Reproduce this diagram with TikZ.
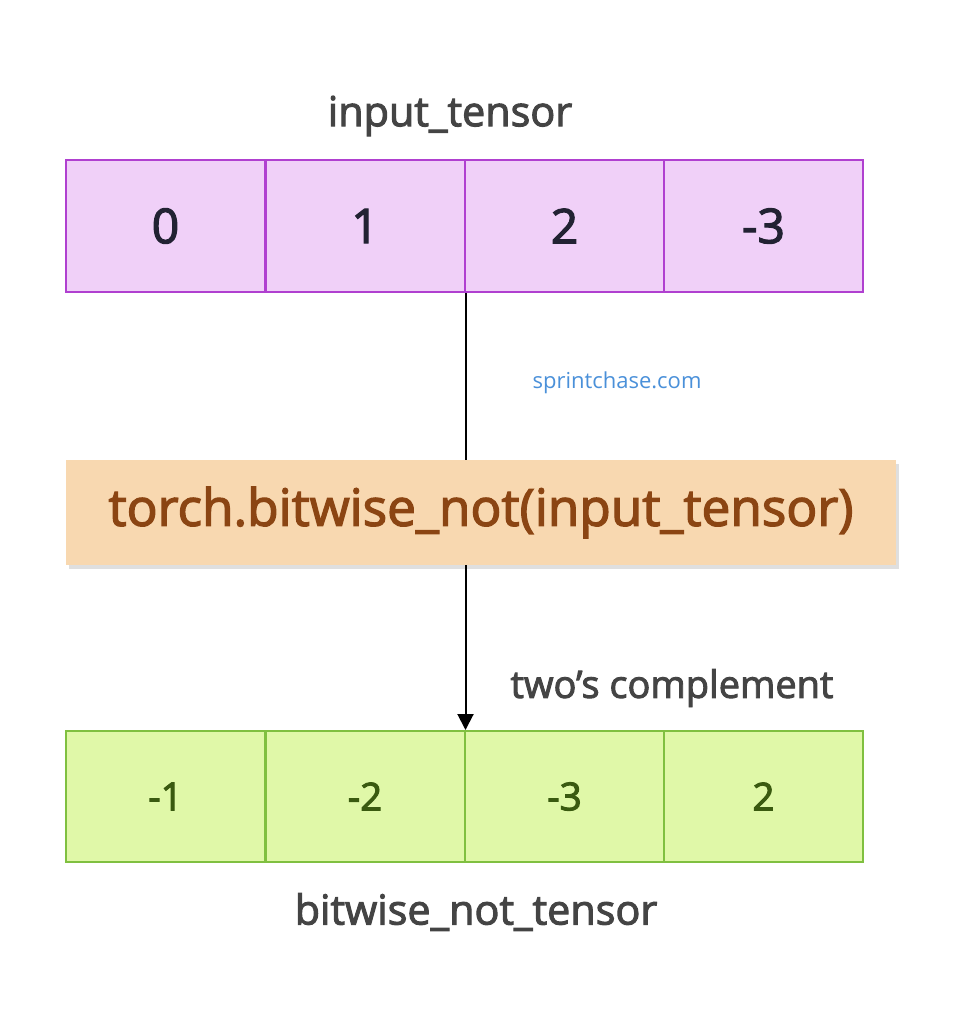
\documentclass[tikz,border=0pt]{standalone}
\usepackage{fontspec}
\setmainfont{Open Sans}
\newfontfamily\semi[FakeBold=2.5]{Open Sans}
\usetikzlibrary{arrows.meta,shadows}
\definecolor{pfill}{HTML}{F0D0F8}\definecolor{pdraw}{HTML}{B040D0}
\definecolor{gfill}{HTML}{E0F8A8}\definecolor{gdraw}{HTML}{80C040}
\definecolor{ofill}{HTML}{F8D8B0}\definecolor{otext}{HTML}{8B4513}
\definecolor{gtext}{HTML}{3A5A10}\definecolor{dtext}{HTML}{222233}
\definecolor{ltext}{HTML}{444444}\definecolor{blue1}{HTML}{4A90D9}
\begin{document}
\begin{tikzpicture}[x=0.75pt,y=-0.75pt,
 pcell/.style={draw=pdraw,line width=1.5pt,fill=pfill,minimum width=149.25pt,minimum height=99pt,inner sep=0,text=dtext,font=\semi\fontsize{36}{40}\selectfont},
 gcell/.style={draw=gdraw,line width=1.5pt,fill=gfill,minimum width=149.25pt,minimum height=98.25pt,inner sep=0,text=gtext,font=\semi\fontsize{29}{32}\selectfont},
 lbl/.style={text=ltext,font=\semi\fontsize{31}{36}\selectfont}]
\useasboundingbox (0,0) rectangle (963,1024);
\node[pcell] (p0) at (165.5,226) {0};
\node[pcell] (p1) at (365,226) {1};
\node[pcell] (p2) at (564.5,226) {2};
\node[pcell] (p3) at (763.5,226) {-3};
\node[gcell] (g0) at (165.5,796.5) {-1};
\node[gcell] (g1) at (365,796.5) {-2};
\node[gcell] (g2) at (564.5,796.5) {-3};
\node[gcell] (g3) at (763.5,796.5) {2};
\node[lbl] (t1) at (450,116) {input\_tensor};
\node[lbl] (t2) at (476,912) {bitwise\_not\_tensor};
\node[fill=ofill,minimum width=622.5pt,minimum height=78.75pt,inner sep=0,text=otext,
 font=\semi\fontsize{38.5}{42}\selectfont,drop shadow={opacity=0.25,shadow xshift=2pt,shadow yshift=-3pt}] (f) at (481,512.5) {torch.bitwise\_not(input\_tensor)};
\coordinate (a) at (p1.south east);
\coordinate (b) at (g1.north east);
\draw[line width=1.5pt] (a) -- (a|-f.north);
\draw[line width=1.5pt,-{Triangle[length=12pt,width=12pt]}] (a|-f.south) -- (b);
\node[text=blue1,font=\fontsize{16.5}{20}\selectfont] (s) at (617,383) {sprintchase.com};
\node[text=ltext,font=\semi\fontsize{28.5}{32}\selectfont] (c) at (672,688) {two’s complement};
\end{tikzpicture}
\end{document}
